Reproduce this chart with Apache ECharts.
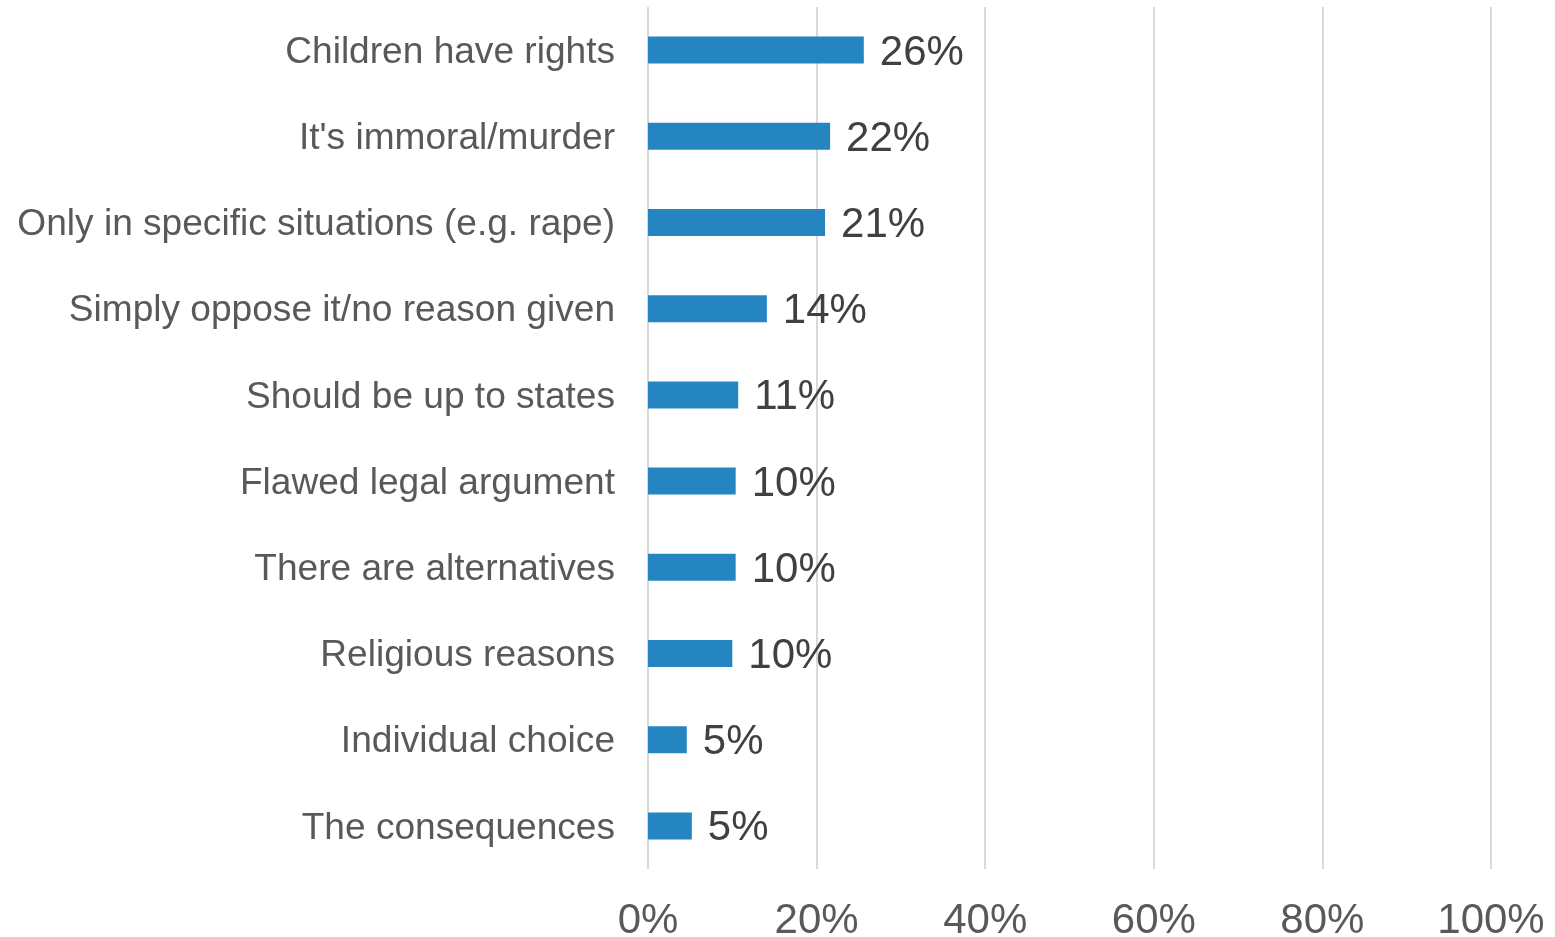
<!DOCTYPE html>
<html>
<head>
<meta charset="utf-8">
<script src="https://cdn.jsdelivr.net/npm/echarts@6/dist/echarts.min.js"></script>
<style>
  html, body { margin: 0; padding: 0; background: #ffffff; }
  #chart { width: 1555px; height: 937px; }
</style>
</head>
<body>
<div id="chart"></div>
<script>
// Reasons given, top to bottom
const categories = [
  "Children have rights",
  "It's immoral/murder",
  "Only in specific situations (e.g. rape)",
  "Simply oppose it/no reason given",
  "Should be up to states",
  "Flawed legal argument",
  "There are alternatives",
  "Religious reasons",
  "Individual choice",
  "The consequences"
];

// Share of respondents (%)
const shares = [25.6, 21.6, 21.0, 14.1, 10.7, 10.4, 10.4, 10.0, 4.6, 5.2];

// Value axis ticks (%)
const tickValues = [0, 20, 40, 60, 80, 100];

const FONT = "'Liberation Sans', Arial, sans-serif";

const chart = echarts.init(document.getElementById('chart'), null, { renderer: 'canvas' });

chart.setOption({
  animation: false,
  backgroundColor: '#ffffff',
  grid: {
    left: 648,
    right: 64,
    top: 7,
    bottom: 68,
    containLabel: false,
    outerBoundsMode: 'none'
  },
  xAxis: {
    type: 'value',
    min: tickValues[0],
    max: tickValues[tickValues.length - 1],
    interval: tickValues[1] - tickValues[0],
    axisLine: { show: false },
    axisTick: { show: false },
    axisLabel: {
      formatter: v => v + '%',
      color: '#595959',
      fontFamily: FONT,
      fontSize: 42,
      margin: 31
    },
    splitLine: {
      show: true,
      lineStyle: { color: '#D9D9D9', width: 2 }
    }
  },
  yAxis: {
    type: 'category',
    data: categories,
    inverse: true,
    axisLine: { show: false },
    axisTick: { show: false },
    axisLabel: {
      margin: 33,
      formatter: v => '{c|' + v + '}',
      rich: {
        c: {
          color: '#595959',
          fontFamily: FONT,
          fontSize: 37.1,
          padding: [5, 0, 0, 0]
        }
      }
    }
  },
  series: [{
    type: 'bar',
    data: shares,
    barWidth: 27,
    itemStyle: { color: '#2585C0' },
    label: {
      show: true,
      position: 'right',
      distance: 16,
      offset: [0, 3],
      formatter: p => Math.round(p.value) + '%',
      color: '#404040',
      fontFamily: FONT,
      fontSize: 42
    }
  }]
});
</script>
</body>
</html>
